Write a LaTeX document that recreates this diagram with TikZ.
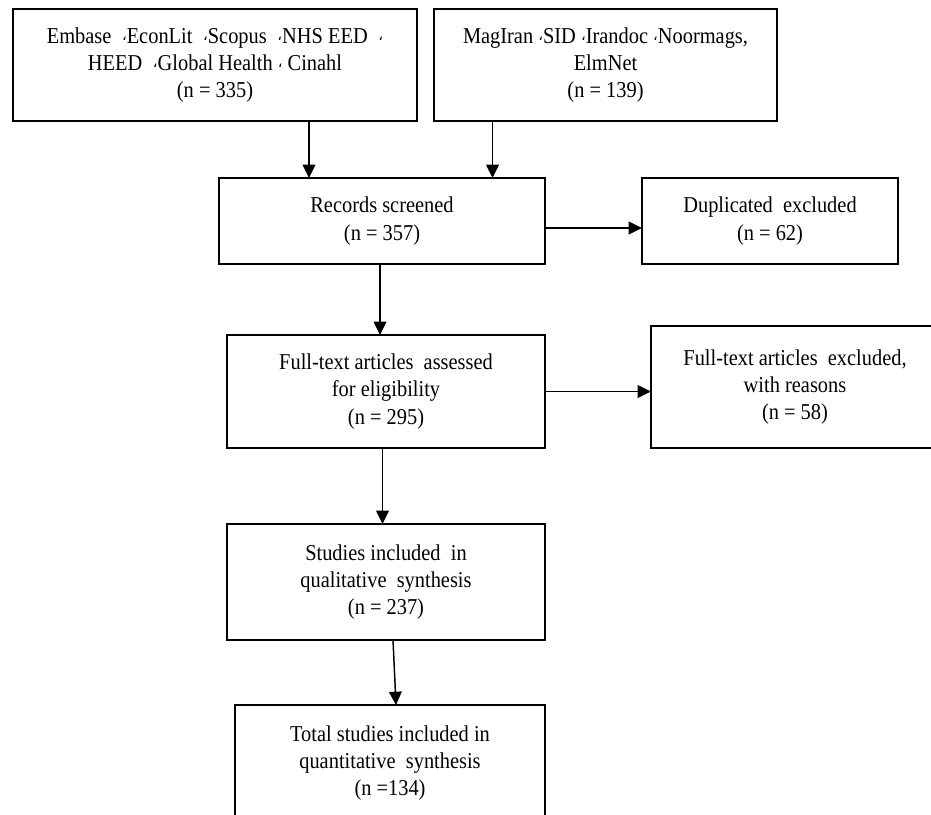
\documentclass[tikz,border=0pt]{standalone}
\usepackage{fontspec}
\setmainfont[FakeStretch=0.9]{Liberation Serif}
\newfontfamily\arabicfont[Script=Arabic]{DejaVu Sans}
\usetikzlibrary{arrows.meta}
\newcommand{\arcomma}{\raisebox{2.2pt}{\arabicfont\fontsize{11}{11}\selectfont ،}}
\newcommand{\gapw}{\hspace{8pt}}
\begin{document}
\begin{tikzpicture}[x=0.75pt,y=-0.75pt,
  box/.style={draw, line width=1pt, inner sep=0pt, outer sep=0pt, align=center,
    font=\fontsize{17}{20.5}\selectfont},
  arr/.style={-{Triangle[length=10pt,width=9.5pt]}, line width=1.1pt}]
\useasboundingbox (0,0) rectangle (931,814);
\fill[white] (0,0) rectangle (931,814);
\begin{scope}
\clip (0,0) rectangle (931,814);
\node[box, minimum width=303pt, minimum height=84pt] (b1) at (215,65)
  {Embase\gapw\arcomma EconLit\gapw\arcomma Scopus\gapw\arcomma NHS EED\gapw\arcomma\\
   HEED\gapw\arcomma Global Health\ \arcomma\ Cinahl\\(n = 335)};
\node[box, minimum width=257.25pt, minimum height=84pt] (b2) at (605.5,65)
  {MagIran \arcomma SID \arcomma Irandoc \arcomma Noormags,\\ElmNet\\(n = 139)};
\node[box, minimum width=244.5pt, minimum height=64.5pt] (rec) at (382,221)
  {Records screened\\(n = 357)};
\node[box, minimum width=192pt, minimum height=64.5pt] (dup) at (770,221)
  {Duplicated\ \ excluded\\(n = 62)};
\node[box, minimum width=238.5pt, minimum height=84.75pt] (ft) at (386,391.5)
  {Full-text articles\ \ assessed\\for eligibility\\(n = 295)};
\node[box, minimum width=216pt, minimum height=91.5pt] (exc) at (795,387)
  {Full-text articles\ \ excluded,\\with reasons\\(n = 58)};
\node[box, minimum width=238.5pt, minimum height=87pt] (st) at (386,582)
  {Studies included\ \ in\\qualitative\ \ synthesis\\(n = 237)};
\node[box, minimum width=232.5pt, minimum height=87pt] (tot) at (390,763)
  {Total studies included in\\quantitative\ \ synthesis\\(n =134)};
\coordinate (xa) at (309,0);
\coordinate (xb) at (492.5,0);
\coordinate (ya) at (0,228);
\coordinate (xc) at (380,0);
\coordinate (xd) at (382.5,0);
\coordinate (xe) at (393,0);
\coordinate (xf) at (396,0);
\draw[arr] (b1.south -| xa) -- (rec.north -| xa);
\draw[arr] (b2.south -| xb) -- (rec.north -| xb);
\draw[arr] (rec.east |- ya) -- (dup.west |- ya);
\draw[arr] (rec.south -| xc) -- (ft.north -| xc);
\draw[arr] (ft.east) -- (exc.west |- ft.east);
\draw[arr] (ft.south -| xd) -- (st.north -| xd);
\draw[arr] (st.south -| xe) -- (tot.north -| xf);
\end{scope}
\end{tikzpicture}
\end{document}
